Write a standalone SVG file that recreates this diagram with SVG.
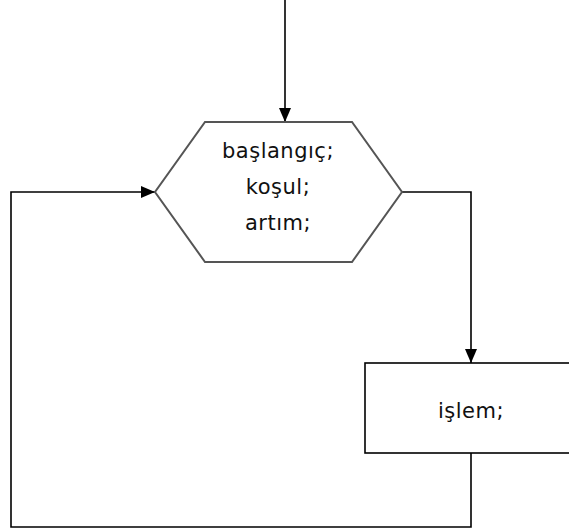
<svg xmlns="http://www.w3.org/2000/svg" width="569" height="530" viewBox="0 0 569 530">
<style>
.t{font-family:"DejaVu Sans",sans-serif;font-size:21px;letter-spacing:0.5px;fill:#111;text-anchor:middle}
.c{fill:none;stroke:#000;stroke-width:1.6}
</style>
<defs>
<marker id="ah" viewBox="0 0 14 12" refX="14" refY="6" markerWidth="14" markerHeight="13" markerUnits="userSpaceOnUse" orient="auto">
<path d="M0,0 L14,6 L0,12 Z" fill="#000"/>
</marker>
</defs>
<rect width="569" height="530" fill="#fff"/>
<g id="connectors">
<path class="c" d="M285,0 V122" marker-end="url(#ah)"/>
<path class="c" d="M402,192 H471 V363" marker-end="url(#ah)"/>
<path class="c" d="M471,453 V527 H11 V192 H155" marker-end="url(#ah)"/>
</g>
<g id="loop">
<polygon points="205,122 352,122 402,192 352,262 205,262 155,192" fill="#fff" stroke="#555" stroke-width="2"/>
<text class="t" x="278" y="158">başlangıç;</text>
<text class="t" x="278" y="194">koşul;</text>
<text class="t" x="278" y="230">artım;</text>
</g>
<g id="process">
<rect x="365" y="363" width="220" height="90" fill="#fff" stroke="#000" stroke-width="1.6"/>
<text class="t" x="471" y="418">işlem;</text>
</g>
</svg>
